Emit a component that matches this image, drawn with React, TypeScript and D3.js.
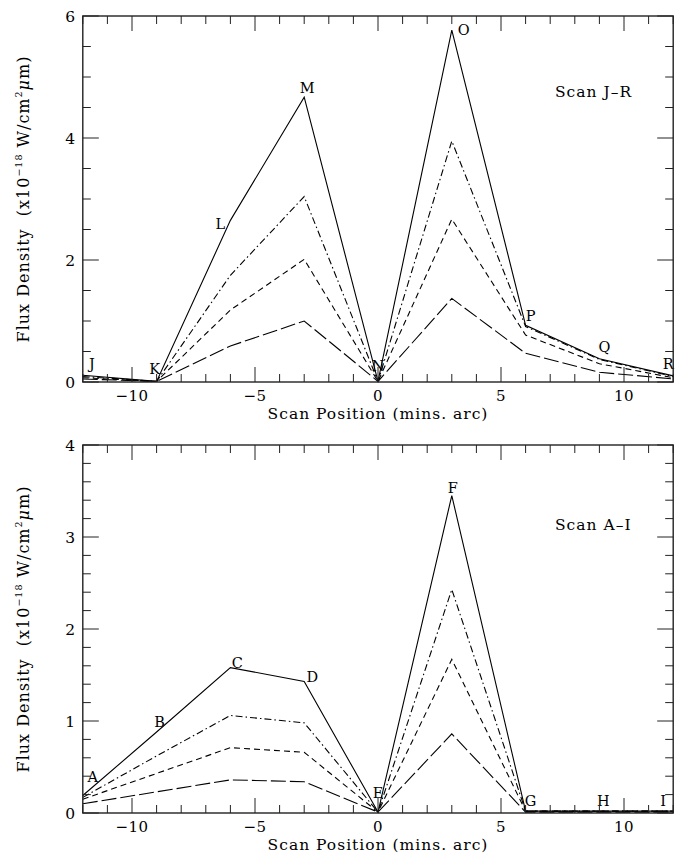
import React from 'react';
import * as d3 from 'd3';

// scan positions (mins. arc) shared by both scans
const scanPos = [-12, -9, -6, -3, 0, 3, 6, 9, 12];

// Scan J-R
const jrLabels = ['J', 'K', 'L', 'M', 'N', 'O', 'P', 'Q', 'R'];
const jrSolid = [0.11, 0.01, 2.65, 4.67, 0.01, 5.77, 0.93, 0.38, 0.1];
const jrDashDot = [0.09, 0.01, 1.75, 3.04, 0.01, 3.95, 0.91, 0.37, 0.09];
const jrDashed = [0.07, 0.01, 1.18, 2.01, 0.01, 2.67, 0.77, 0.3, 0.07];
const jrLongDash = [0.05, 0.01, 0.59, 1.0, 0.01, 1.37, 0.47, 0.16, 0.05];

// Scan A-I
const aiLabels = ['A', 'B', 'C', 'D', 'E', 'F', 'G', 'H', 'I'];
const aiSolid = [0.19, 0.88, 1.58, 1.43, 0.01, 3.45, 0.02, 0.02, 0.02];
const aiDashDot = [0.17, 0.62, 1.06, 0.98, 0.01, 2.43, 0.02, 0.02, 0.02];
const aiDashed = [0.15, 0.43, 0.71, 0.66, 0.01, 1.67, 0.02, 0.02, 0.02];
const aiLongDash = [0.1, 0.23, 0.36, 0.34, 0.01, 0.86, 0.01, 0.01, 0.01];

const xTicks = [-10, -5, 0, 5, 10];

const font = '"DejaVu Serif", "Liberation Serif", serif';
const dashes = ['none', '7,3,1.5,3', '6,4', '15,4'];

const W = 683;
const H = 854;
const left = 82.8;
const right = 673.2;

function Panel({ top, bottom, yMax, yMajor, yMinor, series, labels, offsets, title }) {
  const x = d3.scaleLinear().domain([-12, 12]).range([left, right]);
  const y = d3.scaleLinear().domain([0, yMax]).range([bottom, top]);
  const line = d3.line<number>()
    .x((d, i) => x(scanPos[i]))
    .y(d => y(d));

  const xMinor = d3.range(-12, 12.001, 1);
  const yMinorTicks = d3.range(0, yMax + 1e-6, yMinor);
  const yMajorTicks = d3.range(0, yMax + 1e-6, yMajor);
  const isMajor = (v, step) => Math.abs(v / step - Math.round(v / step)) < 1e-6;
  const stroke = '#222';
  const yMid = (top + bottom) / 2;

  return (
    <g>
      {/* series */}
      {series.map((s, k) => (
        <path key={k} d={line(s) || ''} fill="none" stroke="#000" strokeWidth={1.1}
          strokeDasharray={dashes[k]} />
      ))}
      {/* point labels */}
      {labels.map((lab, i) => (
        <text key={lab} x={x(scanPos[i]) + offsets[i][0]} y={y(series[0][i]) + offsets[i][1]}
          textAnchor="middle" fontFamily={font} fontSize={14.5} fill="#000">{lab}</text>
      ))}
      {/* frame */}
      <rect x={left} y={top} width={right - left} height={bottom - top} fill="none"
        stroke={stroke} strokeWidth={1.4} />
      {/* x ticks, bottom and top */}
      {xMinor.map(v => {
        const len = isMajor(v, 5) ? 15 : 8;
        return (
          <g key={'x' + v}>
            <line x1={x(v)} x2={x(v)} y1={bottom} y2={bottom - len} stroke={stroke} strokeWidth={1} />
            <line x1={x(v)} x2={x(v)} y1={top} y2={top + len} stroke={stroke} strokeWidth={1} />
          </g>
        );
      })}
      {/* y ticks, left and right */}
      {yMinorTicks.map(v => {
        const len = isMajor(v, yMajor) ? 16 : 8;
        return (
          <g key={'y' + v}>
            <line x1={left} x2={left + len} y1={y(v)} y2={y(v)} stroke={stroke} strokeWidth={1} />
            <line x1={right} x2={right - len} y1={y(v)} y2={y(v)} stroke={stroke} strokeWidth={1} />
          </g>
        );
      })}
      {xTicks.map(v => (
        <text key={'xl' + v} x={x(v)} y={bottom + 19} textAnchor="middle" fontFamily={font}
          fontSize={15} letterSpacing={0.5} fill="#000">{v < 0 ? '\u2212' + Math.abs(v) : String(v)}</text>
      ))}
      {yMajorTicks.map(v => (
        <text key={'yl' + v} x={75} y={y(v) + 5.5} textAnchor="end" fontFamily={font}
          fontSize={15.5} fill="#000">{d3.format('d')(v)}</text>
      ))}
      <text x={x(0)} y={bottom + 37} textAnchor="middle" fontFamily={font} fontSize={15.5}
        letterSpacing={1} fill="#000">Scan Position (mins. arc)</text>
      <text transform={`translate(29,${yMid}) rotate(-90)`} textAnchor="middle" fontFamily={font}
        fontSize={16} letterSpacing={1} fill="#000">
        Flux Density{'\u00a0\u00a0'}(x10<tspan dy={-7} fontSize={9.5}>{'\u221218'}</tspan>
        <tspan dy={7}>{'\u00a0W/cm'}</tspan>
        <tspan dy={-7} fontSize={9.5}>2</tspan>
        <tspan dy={7} fontStyle="italic">{'\u03bc'}</tspan>m)
      </text>
      <text x={555} y={title.y} fontFamily={font} fontSize={15.5} letterSpacing={1}
        fill="#000">{title.text}</text>
    </g>
  );
}

const jrOffsets = [[9, -6], [-2, -7], [-10, 9], [3, -4], [0, -10], [12, 5], [5, -4], [5, -7], [-5, -7]];
const aiOffsets = [[10, -14], [3, -5], [7, 0], [8, 1], [0, -14], [1, -3], [5, -5], [4, -5], [-10, -5]];

export default function App() {
  return (
    <svg width={W} height={H} style={{ display: 'block', position: 'absolute', left: 0, top: 0, background: '#fff' }}>
      <Panel top={16} bottom={382} yMax={6} yMajor={2} yMinor={0.5}
        series={[jrSolid, jrDashDot, jrDashed, jrLongDash]} labels={jrLabels}
        offsets={jrOffsets} title={{ text: 'Scan J\u2013R', y: 97 }} />
      <Panel top={445} bottom={813} yMax={4} yMajor={1} yMinor={0.2}
        series={[aiSolid, aiDashDot, aiDashed, aiLongDash]} labels={aiLabels}
        offsets={aiOffsets} title={{ text: 'Scan A\u2013I', y: 530 }} />
    </svg>
  );
}
